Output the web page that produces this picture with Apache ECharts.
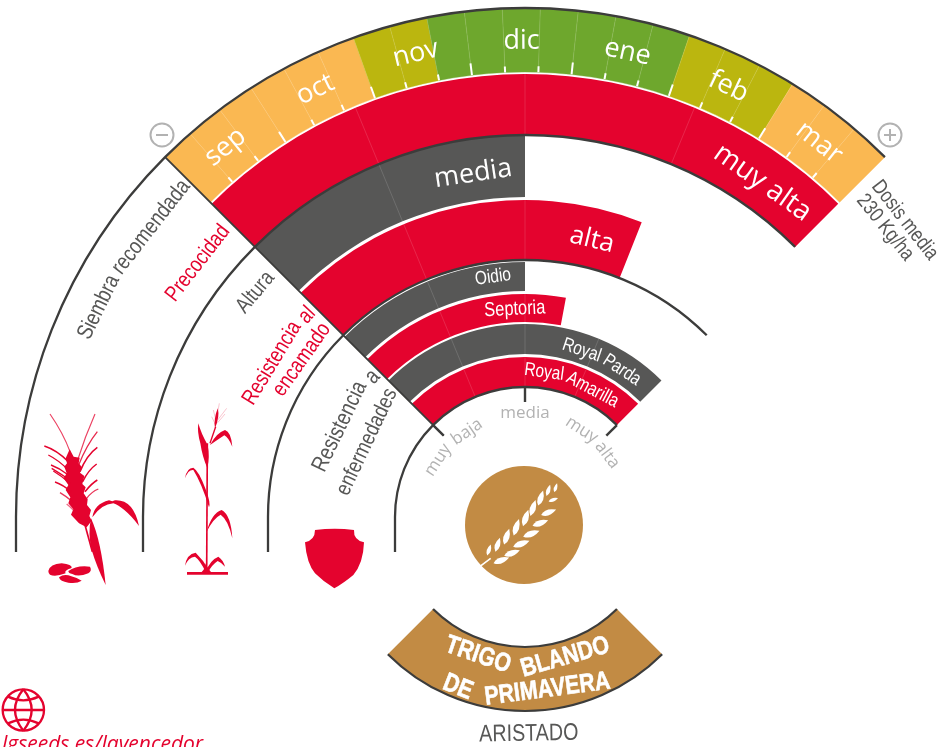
<!DOCTYPE html>
<html>
<head>
<meta charset="utf-8">
<title>Trigo blando de primavera</title>
<script src="https://cdn.jsdelivr.net/npm/echarts@6/dist/echarts.min.js"></script>
<style>
  html, body { margin: 0; padding: 0; background: #fff; overflow: hidden; }
  #chart { width: 940px; height: 747px; }
</style>
</head>
<body>
<div id="chart"></div>
<script>
// datos: escala -2 (muy baja) ... 0 (media) ... 2 (muy alta)
const niveles = ['muy baja', 'media', 'muy alta'];
const nivelesValor = [-2, 0, 2];
const meses = ['sep', 'oct', 'nov', 'dic', 'ene', 'feb', 'mar'];
// una clase por decena de cada mes
const siembra = [
  'fuera', 'fuera', 'fuera', 'fuera', 'fuera', 'fuera',
  'limite', 'limite', 'optima',
  'optima', 'optima', 'optima', 'optima', 'optima', 'optima',
  'limite', 'limite', 'limite',
  'fuera', 'fuera', 'fuera'
];
const caracteristicas = ['Precocidad', 'Altura', 'Resistencia al encamado', 'Oidio', 'Septoria', 'Royal Parda', 'Royal Amarilla'];
const valores = [2, 0, 0.96, 0, 0.47, 2, 2];

// colores
const ROJO = '#E4032E', GRIS = '#575756', LINEA = '#3C3C3B', TENUE = '#B2B2B2', OCRE = '#C28B44';
const FINA = 'rgba(255,255,255,0.2)';
const colorSiembra = { fuera: '#FAB852', limite: '#BBB60F', optima: '#6EA72D' };
const colorBarra = [ROJO, GRIS, ROJO, GRIS, ROJO, GRIS, ROJO];

// aros [r0, r] de cada caracteristica, en el eje radial
const aroSiembra = [445, 509];
const aros = [[382, 443], [320, 382], [257, 317], [226, 255], [195, 223], [163, 193], [130, 160]];
const arcos = [509, 382, 257, 130];
const COLA = 35;
// el calendario del original esta algo girado respecto al eje (grados)
const GIRO_MESES = -0.42;

// no hay fuente estrecha instalada: se estrecha la Liberation Sans
const NARROW = '"Liberation Sans", sans-serif';
const ESTRECHO = 0.82;
const OPEN = '"Open Sans", sans-serif';

// textos curvos, colocados por radio y angulo (grados desde arriba)
const textos = [
  ['media', 347, -8.6, 27, '#fff', OPEN],
  ['muy alta', 410, 35.4, 28, '#fff', OPEN],
  ['alta', 285, 13.6, 26, '#fff', OPEN],
  ['Oidio', 242, -7.6, 19, '#fff', NARROW],
  ['Septoria', 208, -2.8, 20, '#fff', NARROW],
  ['Royal', 176, 18.8, 19, '#fff', NARROW],
  ['Parda', 176, 33.4, 19, '#fff', NARROW],
  ['Royal', 146, 7.5, 19, '#fff', NARROW],
  ['Amarilla', 144, 28, 19, '#fff', NARROW],
  ['media', 104, 0, 17, TENUE, OPEN],
  ['muy', 104, -56.8, 17, TENUE, OPEN],
  ['baja', 103, -34.3, 17, TENUE, OPEN],
  ['muy', 104, 33, 17, TENUE, OPEN],
  ['alta', 103, 53, 17, TENUE, OPEN],
  ['Siembra', 475, -63.8, 22.5, GRIS, NARROW],
  ['recomendada', 473, -52.2, 22.5, GRIS, NARROW],
  ['Precocidad', 414, -52.2, 22, ROJO, NARROW],
  ['Altura', 351, -50.2, 22, GRIS, NARROW],
  ['Resistencia', 296, -58.7, 22, ROJO, NARROW],
  ['al', 297, -47.2, 22, ROJO, NARROW],
  ['encamado', 273, -54.8, 22, ROJO, NARROW],
  ['Resistencia', 206, -64, 23, GRIS, NARROW],
  ['a', 207, -47.4, 23, GRIS, NARROW],
  ['enfermedades', 175, -64.6, 22, GRIS, NARROW],
  ['Dosis media', 482, 52, 21, GRIS, NARROW],
  ['230 Kg/ha', 462, 51.2, 21, GRIS, NARROW],
  ['TRIGO', 146, 198.8, 26, '#fff', NARROW, 700],
  ['BLANDO', 146, 164, 26, '#fff', NARROW, 700],
  ['DE', 183, 201.5, 26, '#fff', NARROW, 700],
  ['PRIMAVERA', 174, 172.6, 26, '#fff', NARROW, 700],
  ['ARISTADO', 217, 179, 24, GRIS, NARROW]
];

const nivel = function (grados) { return grados / 22.5; };

function sector(params, api, r0, r, a, b, fill) {
  const p0 = api.coord([r0, a]);
  const p1 = api.coord([r, b]);
  return {
    type: 'sector',
    shape: { cx: params.coordSys.cx, cy: params.coordSys.cy, r0: p0[2], r: p1[2], startAngle: -p0[3], endAngle: -p1[3], clockwise: true },
    style: { fill: fill }
  };
}

function radio(api, r0, r, a, color, ancho) {
  const p0 = api.coord([r0, a]);
  const p1 = api.coord([r, a]);
  return {
    type: 'line',
    shape: { x1: p0[0], y1: p0[1], x2: p1[0], y2: p1[1] },
    style: { stroke: color, lineWidth: ancho }
  };
}

function arco(params, api, r, a, b, ancho) {
  const p0 = api.coord([r, a]);
  const p1 = api.coord([r, b]);
  return {
    type: 'arc',
    shape: { cx: params.coordSys.cx, cy: params.coordSys.cy, r: p0[2], startAngle: -p0[3], endAngle: -p1[3], clockwise: true },
    style: { stroke: LINEA, lineWidth: ancho, fill: null }
  };
}

function texto(api, t, r, grados, size, color, familia, peso) {
  const p = api.coord([r, nivel(grados)]);
  const giro = grados > 90 ? grados - 180 : grados;
  const estilo = { text: t, fontSize: size, fontFamily: familia, fontWeight: peso || 400, fill: color, align: 'center', verticalAlign: 'middle' };
  if (peso === 700) { estilo.stroke = color; estilo.lineWidth = 0.6; }
  return {
    type: 'text', x: p[0], y: p[1], rotation: -giro * Math.PI / 180, scaleX: familia === NARROW ? ESTRECHO : 1,
    style: estilo
  };
}

// limites de cada decena; los extremos se quedan en el eje
const decena = function (i) {
  if (i === 0 || i === siembra.length) return -2 + i * 4 / siembra.length;
  return -2 + i * 4 / siembra.length + nivel(GIRO_MESES);
};

const renderFondoSiembra = function (params, api) {
  const i = params.dataIndex;
  const s = sector(params, api, aroSiembra[0], aroSiembra[1], decena(i), decena(i + 1), colorSiembra[siembra[i]]);
  // un poco de borde para que no se vea la costura entre decenas
  s.style.stroke = colorSiembra[siembra[i]];
  s.style.lineWidth = 0.4;
  return s;
};

const renderSiembra = function (params, api) {
  const i = params.dataIndex;
  if (i === 0) return { type: 'group', children: [] };
  return {
    type: 'group',
    children: [
      radio(api, aroSiembra[0], aroSiembra[1], decena(i), FINA, 0.7),
      radio(api, aroSiembra[0], aroSiembra[0] + (i % 3 === 0 ? 12 : 6), decena(i), '#fff', 2)
    ]
  };
};

const renderBarra = function (params, api) {
  const i = params.dataIndex;
  const hijos = [sector(params, api, aros[i][0], aros[i][1], -2, valores[i], colorBarra[i])];
  [-1, 0, 1].forEach(function (n) {
    if (n < valores[i]) hijos.push(radio(api, aros[i][0], aros[i][1], n, FINA, 0.7));
  });
  return { type: 'group', children: hijos };
};

const renderLineas = function (params, api) {
  const r = arcos[params.dataIndex];
  const p = api.coord([r, -4]);
  return {
    type: 'group',
    children: [
      arco(params, api, r, -4, 2, 2.3),
      { type: 'line', shape: { x1: p[0], y1: p[1], x2: p[0], y2: p[1] + COLA }, style: { stroke: LINEA, lineWidth: 2.3 } }
    ]
  };
};

const renderEscala = function (params, api) {
  const hijos = [radio(api, 115, 509, -2, LINEA, 1.8)];
  nivelesValor.forEach(function (n) { hijos.push(radio(api, 115, 130, n, LINEA, 2.4)); });
  return { type: 'group', children: hijos };
};

const renderCinta = function (params, api) {
  return {
    type: 'group',
    children: [
      sector(params, api, 130, 194, 6, 10, OCRE),
      arco(params, api, 130, 6, 10, 2.2),
      arco(params, api, 194, 6, 10, 2.2)
    ]
  };
};

const renderMes = function (params, api) {
  const i = params.dataIndex;
  return texto(api, meses[i], 476, (i + 0.5) * 90 / meses.length - 45 + GIRO_MESES, 27, '#fff', OPEN);
};

const renderTexto = function (params, api) {
  const e = textos[params.dataIndex];
  return texto(api, e[0], e[1], e[2], e[3], e[4], e[5], e[6]);
};

function capa(nombre, n, render) {
  const datos = [];
  for (let i = 0; i < n; i++) datos.push([0, 0]);
  return { type: 'custom', name: nombre, coordinateSystem: 'polar', data: datos, renderItem: render, silent: true, animation: false };
}

// iconos, dibujados en coordenadas ampliadas x3
const grupoIcono = function (x, y, hijos) {
  return { type: 'group', x: x, y: y, scaleX: 1 / 3, scaleY: 1 / 3, children: hijos };
};
const relleno = function (d, color) {
  return { type: 'path', shape: { pathData: d }, style: { fill: color || ROJO } };
};
const trazo = function (d, ancho, color, op) {
  return { type: 'path', shape: { pathData: d }, style: { fill: null, stroke: color || ROJO, lineWidth: ancho, opacity: op === undefined ? 1 : op } };
};

const espiga = grupoIcono(35, 410, [
  relleno('M104 118 L116 140 L134 143 L131 160 L141 172 L135 188 L148 198 L142 222 L152 232 L146 250 L158 268 L156 285 L168 300 L163 318 L170 332 L155 352 L132 340 L108 314 L115 298 L100 280 L106 262 L92 240 L100 225 L86 205 L95 190 L88 170 L96 160 L92 145 Z'),
  trazo('M105 125 Q85 70 45 12', 3.5, ROJO, 0.75),
  trazo('M128 150 Q150 80 180 12', 3.5, ROJO, 0.75),
  trazo('M131 165 Q155 105 187 65', 4, ROJO, 0.85),
  trazo('M135 185 Q155 135 187 112', 4.5),
  trazo('M143 215 Q160 180 185 162', 4.5),
  trazo('M150 245 Q170 220 187 210', 4.5),
  trazo('M155 265 Q170 245 190 237', 4, ROJO, 0.8),
  trazo('M100 155 Q65 120 28 108', 4.5),
  trazo('M100 180 Q70 150 40 135', 4),
  trazo('M100 195 Q75 175 48 165', 4),
  trazo('M100 207 Q75 190 50 175', 4),
  trazo('M105 220 Q80 198 55 183', 4),
  trazo('M108 245 Q85 225 60 216', 4),
  trazo('M113 275 Q95 260 75 248', 4, ROJO, 0.8),
  trazo('M115 300 Q105 290 95 282', 4, ROJO, 0.6),
  trazo('M150 345 L172 425', 5),
  relleno('M168 325 Q198 390 212 525 Q185 470 170 420 Q158 370 168 325 Z'),
  relleno('M172 322 Q178 282 222 271 L232 274 L240 271 Q295 268 312 348 Q290 318 268 300 Q250 285 235 280 Q200 282 172 322 Z'),
  relleno('M40 483 Q45 462 80 460 Q112 463 110 474 Q85 482 92 490 Q60 502 45 494 Q40 490 40 483 Z'),
  relleno('M100 483 Q125 465 165 470 Q172 482 160 490 Q130 502 112 492 Q100 490 100 483 Z'),
  relleno('M72 502 Q85 492 100 496 Q125 503 140 512 Q125 522 100 518 Q75 515 72 502 Z')
]);

const planta = grupoIcono(175, 400, [
  relleno('M36 516 H159 V524 H36 Z'),
  trazo('M97 130 L95 516', 5),
  relleno('M128 25 Q135 50 120 85 Q115 60 128 25 Z'),
  trazo('M133 10 L124 60 M115 30 L125 70 M155 25 L128 60 M110 50 L122 75 M150 42 L128 68', 2, ROJO, 0.35),
  trazo('M122 80 L105 130', 4),
  relleno('M70 70 Q78 100 98 135 Q105 170 97 205 Q82 170 76 130 Q66 95 70 70 Z'),
  relleno('M105 135 Q125 98 150 90 Q168 95 172 140 Q160 112 148 106 Q130 118 105 135 Z'),
  relleno('M102 322 Q80 250 55 210 Q40 208 30 235 Q35 203 55 203 Q72 213 92 268 Q108 310 102 322 Z'),
  relleno('M95 395 Q110 340 140 330 Q168 345 172 415 Q160 360 137 344 Q115 355 95 395 Z'),
  relleno('M92 516 Q75 480 60 470 Q40 472 30 497 Q35 462 62 458 Q85 480 102 510 Z'),
  relleno('M92 516 Q105 480 130 470 Q145 480 150 500 Q140 488 128 483 Q110 495 100 516 Z'),
  relleno('M80 516 Q92 505 92 490 Q96 505 108 516 Z')
]);

const escudo = grupoIcono(0, 400, [
  relleno('M945 390 Q1005 383 1062 390 Q1060 420 1092 427 Q1090 490 1060 525 Q1030 550 1003 565 Q970 545 945 520 Q920 490 915 427 Q945 420 945 390 Z')
]);

const globoLinea = 7;
const globo = grupoIcono(0, 680, [
  { type: 'circle', shape: { cx: 70, cy: 90, r: 62 }, style: { fill: null, stroke: ROJO, lineWidth: globoLinea } },
  trazo('M10 90 L130 90', globoLinea),
  trazo('M24 50 Q70 72 116 50', globoLinea),
  trazo('M24 130 Q70 108 116 130', globoLinea),
  trazo('M70 28 Q20 90 70 152', globoLinea),
  trazo('M70 28 Q120 90 70 152', globoLinea)
]);

// granos del emblema: x, y, largo
const granosArriba = [[57, 225, 34], [83, 209, 44], [110, 185, 50], [139, 157, 52], [167, 129, 52], [189, 99, 50], [212, 69, 48], [235, 46, 35], [257, 38, 28]];
const granosDerecha = [[94, 256, 50], [126, 234, 50], [154, 206, 52], [184, 176, 52], [211, 144, 50], [236, 112, 48], [250, 74, 30]];
const grano = function (g, giro) {
  const m = g[2] / 2, w = g[2] * 0.36;
  return {
    type: 'path', x: g[0], y: g[1], rotation: -giro * Math.PI / 180,
    shape: { pathData: 'M0 ' + m + ' Q' + w + ' ' + (m * 0.2) + ' 0 ' + (-m) + ' Q' + (-w) + ' ' + (m * 0.2) + ' 0 ' + m + ' Z' },
    style: { fill: '#fff' }
  };
};
const emblema = grupoIcono(470, 475, [trazo('M30 274 L62 250', 5, '#fff')]
  .concat(granosArriba.map(function (g) { return grano(g, 18); }))
  .concat(granosDerecha.map(function (g) { return grano(g, 70); })));

const signo = function (x, y, mas) {
  const hijos = [
    { type: 'circle', shape: { cx: x, cy: y, r: 11.5 }, style: { fill: null, stroke: TENUE, lineWidth: 2 } },
    { type: 'line', shape: { x1: x - 6, y1: y, x2: x + 6, y2: y }, style: { stroke: TENUE, lineWidth: 2 } }
  ];
  if (mas) hijos.push({ type: 'line', shape: { x1: x, y1: y - 6, x2: x, y2: y + 6 }, style: { stroke: TENUE, lineWidth: 2 } });
  return { type: 'group', children: hijos };
};

const renderIconos = function () {
  return {
    type: 'group',
    children: [
      { type: 'circle', shape: { cx: 524, cy: 525, r: 59 }, style: { fill: OCRE } },
      emblema, espiga, planta, escudo, globo,
      signo(162, 135, false), signo(890, 135, true),
      {
        type: 'text', x: 2, y: 756,
        style: { text: 'lgseeds.es/lavencedor', fontSize: 21, fontStyle: 'italic', fontFamily: OPEN, fill: ROJO, align: 'left', verticalAlign: 'bottom' }
      }
    ]
  };
};

const chart = echarts.init(document.getElementById('chart'));
chart.setOption({
  animation: false,
  backgroundColor: '#fff',
  polar: { center: [525, 517], radius: [0, 509] },
  radiusAxis: { type: 'value', min: 0, max: 509, show: false },
  angleAxis: { type: 'value', min: -8, max: 8, startAngle: 270, show: false },
  series: [
    capa('Iconos', 1, renderIconos),
    capa('Siembra recomendada', siembra.length, renderFondoSiembra),
    capa('Decenas', siembra.length, renderSiembra),
    capa('Caracteristicas', caracteristicas.length, renderBarra),
    capa('Cinta', 1, renderCinta),
    capa('Lineas', arcos.length, renderLineas),
    capa('Escala', 1, renderEscala),
    capa('Meses', meses.length, renderMes),
    capa('Textos', textos.length, renderTexto)
  ]
});
</script>
</body>
</html>
